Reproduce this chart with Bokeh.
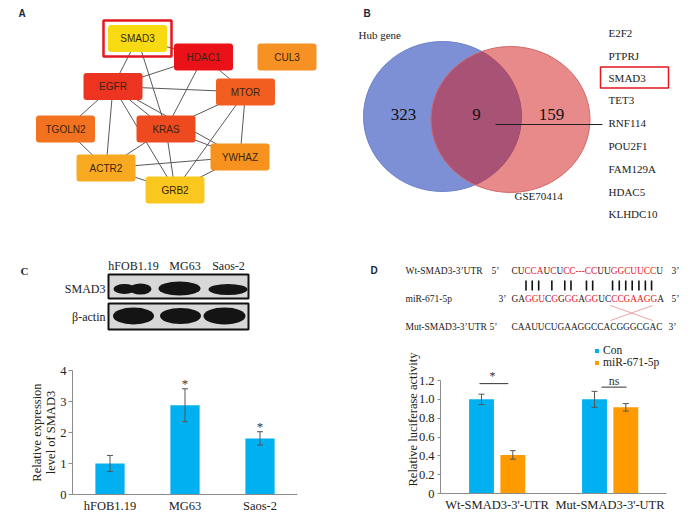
from bokeh.plotting import figure
from bokeh.models import (Range1d, FactorRange, ColumnDataSource, Whisker,
                          CustomJSTickFormatter, FixedTicker)
from bokeh.transform import dodge
from bokeh.layouts import row, column
from bokeh.core.properties import value
from bokeh.embed import file_html
from bokeh.resources import INLINE

SERIF_NAME = "Liberation Serif"
SANS_NAME = "Liberation Sans"
SERIF = value(SERIF_NAME)
SANS = value(SANS_NAME)

# ---------------- Panel A : PPI network ----------------
node_names = ["SMAD3", "HDAC1", "CUL3", "EGFR", "MTOR", "TGOLN2", "KRAS", "YWHAZ", "ACTR2", "GRB2"]
node_x = [137, 203, 286.5, 112.5, 245, 65, 165.5, 239.5, 105.5, 174.5]
node_y = [38, 56.5, 56.5, 86, 91.5, 128.5, 128.5, 156.5, 167.5, 189.5]
node_colors = ["#f8da12", "#ea1218", "#f69224", "#ec3420", "#f25e20", "#f2721f",
               "#ed4a1f", "#f7921f", "#f8a920", "#f9c71d"]
edges = [("SMAD3", "HDAC1"), ("SMAD3", "EGFR"), ("SMAD3", "KRAS"),
         ("HDAC1", "EGFR"), ("HDAC1", "KRAS"), ("HDAC1", "MTOR"),
         ("EGFR", "MTOR"), ("EGFR", "TGOLN2"), ("EGFR", "ACTR2"), ("EGFR", "KRAS"),
         ("EGFR", "GRB2"), ("EGFR", "YWHAZ"),
         ("MTOR", "KRAS"), ("MTOR", "GRB2"), ("MTOR", "YWHAZ"),
         ("KRAS", "YWHAZ"), ("KRAS", "ACTR2"), ("KRAS", "GRB2"),
         ("TGOLN2", "ACTR2"), ("ACTR2", "YWHAZ"), ("ACTR2", "GRB2"), ("GRB2", "YWHAZ")]
highlight_gene = "SMAD3"

# ---------------- Panel B : Venn ----------------
venn_counts = ["323", "9", "159"]
venn_sets = ["Hub gene", "GSE70414"]
overlap_genes = ["E2F2", "PTPRJ", "SMAD3", "TET3", "RNF114", "POU2F1", "FAM129A", "HDAC5", "KLHDC10"]

# ---------------- Panel C ----------------
cells = ["hFOB1.19", "MG63", "Saos-2"]
expr = [1.0, 2.88, 1.81]
expr_err = [0.26, 0.53, 0.215]
expr_sig = ["", "*", "*"]
blot_rows = ["SMAD3", "\u03b2-actin"]

# ---------------- Panel D ----------------
groups = ["Wt-SMAD3-3'-UTR", "Mut-SMAD3-3'-UTR"]
con = [1.0, 1.0]
con_err = [0.055, 0.085]
mir = [0.41, 0.915]
mir_err = [0.045, 0.04]
sig_text = ["*", "ns"]
seq_names = ["Wt-SMAD3-3\u2019UTR", "miR-671-5p", "Mut-SMAD3-3\u2019UTR"]
seq_left = ["5\u2019", "3\u2019", "5\u2019"]
seq_right = ["3\u2019", "5\u2019", "3\u2019"]
wt_seq = "CUCCAUCUCC---CCUUGGCUUCCU"
wt_red = [2, 3, 4, 6, 8, 9, 10, 11, 12, 13, 14, 17, 18, 19, 20, 21, 22, 23]
wt_pair = [2, 3, 4, 6, 8, 9, 13, 14, 17, 18, 19, 20, 21, 22, 23]
mir_seq = "GAGGUCGGGGAGGUCCCGAAGGA"
mir_red = [2, 3, 4, 6, 8, 9, 11, 12, 15, 16, 17, 18, 19, 20, 21]
mut_seq = "CAAUUCUGAAGGCCACGGGCGAC"

BLUE = "#00B0F0"
ORANGE = "#FF9A00"
AXIS = "#8c8c8c"


def canvas(w, h, x0, x1, y0, y1):
    p = figure(width=w, height=h, x_range=Range1d(x0, x1), y_range=Range1d(y1, y0),
               x_axis_type=None, y_axis_type=None, output_backend="svg",
               toolbar_location=None, min_border=0, outline_line_color=None,
               frame_align=False)
    return p


# ===== A =====
pA = canvas(350, 258, 0, 350, 0, 258)
pos = {n: (x, y) for n, x, y in zip(node_names, node_x, node_y)}
pA.segment(x0=[pos[a][0] for a, b in edges], y0=[pos[a][1] for a, b in edges],
           x1=[pos[b][0] for a, b in edges], y1=[pos[b][1] for a, b in edges],
           line_color="#5a5a5a", line_width=1)
bw, bh = 59, 27
pA.quad(left=[x - bw / 2 for x in node_x], right=[x + bw / 2 for x in node_x],
        top=[y - bh / 2 for y in node_y], bottom=[y + bh / 2 for y in node_y],
        fill_color=node_colors, line_color=None, border_radius=3)
hx, hy = pos[highlight_gene]
pA.quad(left=[hx - 34], right=[hx + 34], top=[hy - 18], bottom=[hy + 18],
        fill_color=None, line_color="#e4161e", line_width=2.5)
pA.text(x=node_x, y=node_y, text=node_names, text_align="center", text_baseline="middle",
        text_font=SANS, text_font_size="10px", text_color="#3b2414")
pA.text(x=[18], y=[13], text=["A"], text_align="left", text_baseline="middle",
        text_font=SANS, text_font_size="10px", text_font_style="bold", text_color="#1a2a3a")

# ===== B =====
pB = canvas(348, 258, 350, 698, 0, 258)
pB.ellipse(x=[442], y=[116], width=[158], height=[150], fill_color="#7d90d5",
           line_color="#6d80c8", line_width=1)
pB.ellipse(x=[510], y=[119], width=[159], height=[146], fill_color=(210, 25, 25),
           fill_alpha=0.51, line_color="#d06868", line_width=1)
pB.text(x=[403, 476, 551], y=[114, 114, 114], text=venn_counts, text_align="center",
        text_baseline="middle", text_font=SERIF, text_font_size="17px", text_color="#111111")
pB.segment(x0=[495], y0=[124], x1=[602], y1=[124], line_color="#222222", line_width=1)
pB.text(x=[358, 514], y=[34, 195], text=venn_sets, text_align="left", text_baseline="middle",
        text_font=SERIF, text_font_size="11px", text_color="#222222")
gene_y = [32, 55, 77, 99, 122, 145, 168, 191, 213]
pB.text(x=[608] * len(overlap_genes), y=gene_y, text=overlap_genes, text_align="left",
        text_baseline="middle", text_font=SERIF, text_font_size="11px", text_color="#222222")
gi = overlap_genes.index("SMAD3")
pB.quad(left=[600], right=[668], top=[gene_y[gi] - 10.5], bottom=[gene_y[gi] + 10.5],
        fill_color=None, line_color="#e4161e", line_width=1.5)
pB.text(x=[363], y=[13], text=["B"], text_align="left", text_baseline="middle",
        text_font=SANS, text_font_size="10px", text_font_style="bold", text_color="#1a2a3a")

# ===== C top: western blot =====
pCt = canvas(350, 87, 0, 350, 258, 345)
pCt.text(x=[133, 184.5, 228], y=[265, 265, 265], text=cells, text_align="center",
         text_baseline="middle", text_font=SERIF, text_font_size="12px", text_color="#222222")
pCt.quad(left=[108, 108], right=[248, 248], top=[274, 303], bottom=[298, 329],
         fill_color="#d8d8d8", line_color="#111111", line_width=2)
pCt.ellipse(x=[124, 140, 179, 227.5], y=[288.5, 288.5, 288, 289], width=[22, 22, 42, 39],
            height=[10, 11, 14, 11], fill_color="#141414", line_color=None)
pCt.ellipse(x=[133, 180, 224], y=[315.5, 315.5, 315.5], width=[41, 41, 42],
            height=[17, 16, 17], fill_color="#141414", line_color=None)
pCt.text(x=[105, 105], y=[288, 316], text=blot_rows, text_align="right", text_baseline="middle",
         text_font=SERIF, text_font_size="12px", text_color="#222222")
pCt.text(x=[20], y=[270], text=["C"], text_align="left", text_baseline="middle",
         text_font=SERIF, text_font_size="11px", text_font_style="bold", text_color="#1a2a3a")

# ===== C bar =====
srcC = ColumnDataSource(dict(cell=cells, expr=expr,
                             up=[v + e for v, e in zip(expr, expr_err)],
                             lo=[v - e for v, e in zip(expr, expr_err)],
                             sig=expr_sig,
                             sig_y=[v + e + 0.18 for v, e in zip(expr, expr_err)]))
pCb = figure(width=350, height=179, x_range=FactorRange(*cells), y_range=Range1d(0, 4),
             output_backend="svg", toolbar_location=None, outline_line_color=None,
             frame_align=False,
             min_border_left=72, min_border_right=53, min_border_top=25, min_border_bottom=30)
pCb.vbar(x="cell", top="expr", width=0.39, source=srcC, fill_color=BLUE, line_color=None)
wC = Whisker(source=srcC, base="cell", upper="up", lower="lo", level="overlay",
             line_color="#555555", line_width=1)
wC.upper_head.size = 6
wC.lower_head.size = 6
wC.upper_head.line_color = "#555555"
wC.lower_head.line_color = "#555555"
pCb.add_layout(wC)
pCb.text(x="cell", y="sig_y", text="sig", source=srcC, text_align="center", text_baseline="middle",
         text_font=SERIF, text_font_size="13px", text_color="#333333")
pCb.grid.visible = False
pCb.yaxis.ticker = FixedTicker(ticks=[0, 1, 2, 3, 4])
pCb.yaxis.axis_label = "Relative expression\nlevel of SMAD3"
for ax in (pCb.xaxis, pCb.yaxis):
    ax.axis_line_color = AXIS
    ax.major_tick_line_color = AXIS
    ax.minor_tick_line_color = None
    ax.major_label_text_font = SERIF_NAME
    ax.major_label_text_font_size = "12.5px"
    ax.major_label_text_color = "#222222"
    ax.axis_label_text_font = SERIF_NAME
    ax.axis_label_text_font_size = "12.5px"
    ax.axis_label_text_font_style = "normal"
    ax.axis_label_text_color = "#222222"
    ax.axis_label_text_line_height = 1.0
pCb.yaxis.major_tick_out = 4
pCb.yaxis.major_tick_in = 0
pCb.yaxis.major_label_standoff = 2
pCb.yaxis.axis_label_standoff = -1
pCb.xaxis.major_tick_line_color = None
pCb.xaxis.major_tick_out = 0
pCb.xaxis.major_tick_in = 0
pCb.xaxis.major_label_standoff = 4

# ===== D top: sequences =====
pDt = canvas(348, 82, 350, 698, 258, 340)
CW = {"A": 0.722, "C": 0.667, "G": 0.722, "U": 0.722, "-": 0.333}
FS = 9.3


def centers(seq, x0):
    xs, cur = [], x0
    for ch in seq:
        w = CW[ch] * FS
        xs.append(cur + w / 2)
        cur += w
    return xs


row_y = [270, 298, 326]
seq_x0 = 511
wt_x = centers(wt_seq, seq_x0)
mir_x = centers(mir_seq, seq_x0)
mut_x = centers(mut_seq, seq_x0)
RED = "#e8141c"
chars, cx, cy, cc = [], [], [], []
for seq, xs, y, reds in [(wt_seq, wt_x, row_y[0], wt_red), (mir_seq, mir_x, row_y[1], mir_red),
                         (mut_seq, mut_x, row_y[2], [])]:
    for i, ch in enumerate(seq):
        chars.append(ch)
        cx.append(xs[i])
        cy.append(y)
        cc.append(RED if i in reds else "#1a1a1a")
pDt.text(x=cx, y=cy, text=chars, text_color=cc, text_align="center", text_baseline="middle",
         text_font=SERIF, text_font_size=f"{FS}px")
pair_x = [wt_x[i] - 1.5 for i in wt_pair]
pDt.segment(x0=pair_x, x1=pair_x, y0=[280.0] * len(pair_x), y1=[290.0] * len(pair_x),
            line_color="#111111", line_width=1.6)
pDt.text(x=[405] * 3, y=row_y, text=seq_names, text_align="left", text_baseline="middle",
         text_font=SERIF, text_font_size="9.5px", text_color="#1a1a1a")
pDt.text(x=[495, 502, 493], y=row_y, text=seq_left, text_align="center", text_baseline="middle",
         text_font=SERIF, text_font_size="9.5px", text_color="#1a1a1a")
pDt.text(x=[675, 675, 672], y=row_y, text=seq_right, text_align="center", text_baseline="middle",
         text_font=SERIF, text_font_size="9.5px", text_color="#1a1a1a")
pDt.segment(x0=[610, 610], y0=[305, 320], x1=[652, 652], y1=[320, 305],
            line_color="#f0a4a4", line_width=1)
pDt.text(x=[370], y=[270], text=["D"], text_align="left", text_baseline="middle",
         text_font=SANS, text_font_size="10px", text_font_style="bold", text_color="#1a2a3a")

# ===== D bar =====
srcD = ColumnDataSource(dict(group=groups, con=con, mir=mir,
                             con_up=[v + e for v, e in zip(con, con_err)],
                             con_lo=[v - e for v, e in zip(con, con_err)],
                             mir_up=[v + e for v, e in zip(mir, mir_err)],
                             mir_lo=[v - e for v, e in zip(mir, mir_err)]))
# frame extends above the 1.2 axis top so that the legend and markers fit inside it
pDb = figure(width=348, height=184, x_range=FactorRange(*groups), y_range=Range1d(0, 1.572),
             output_backend="svg", toolbar_location=None, outline_line_color=None,
             frame_align=False,
             min_border_left=90, min_border_right=32, min_border_top=5, min_border_bottom=31)
pDb.vbar(x=dodge("group", -0.137, range=pDb.x_range), top="con", width=0.22, source=srcD,
         fill_color=BLUE, line_color=None, legend_label="Con")
pDb.vbar(x=dodge("group", 0.14, range=pDb.x_range), top="mir", width=0.22, source=srcD,
         fill_color=ORANGE, line_color=None, legend_label="miR-671-5p")
for off, up, lo in [(-0.137, "con_up", "con_lo"), (0.14, "mir_up", "mir_lo")]:
    w = Whisker(source=srcD, base=dodge("group", off, range=pDb.x_range), upper=up, lower=lo,
                level="overlay", line_color="#555555", line_width=1)
    w.upper_head.size = 6
    w.lower_head.size = 6
    w.upper_head.line_color = "#555555"
    w.lower_head.line_color = "#555555"
    pDb.add_layout(w)
# significance brackets (synthetic categorical coordinates: group i centred at i + 0.5)
sig_line_y = [1.167, 1.13]
pDb.segment(x0=[0.345, 1.425], x1=[0.60, 1.646], y0=sig_line_y, y1=sig_line_y,
            line_color="#333333", line_width=1)
pDb.text(x=[0.46, 1.537], y=[1.245, 1.19], text=sig_text, text_align="center",
         text_baseline="middle", text_font=SERIF, text_font_size="12px", text_color="#333333")
pDb.grid.visible = False
pDb.yaxis.ticker = FixedTicker(ticks=[0, 0.2, 0.4, 0.6, 0.8, 1.0, 1.2])
pDb.yaxis.bounds = (0, 1.2)
pDb.yaxis.formatter = CustomJSTickFormatter(code="return tick == 0 ? '0' : tick.toFixed(1);")
pDb.yaxis.axis_label = "Relative luciferase activity"
for ax in (pDb.xaxis, pDb.yaxis):
    ax.axis_line_color = AXIS
    ax.major_tick_line_color = AXIS
    ax.minor_tick_line_color = None
    ax.major_label_text_font = SERIF_NAME
    ax.major_label_text_font_size = "12.5px"
    ax.major_label_text_color = "#222222"
    ax.axis_label_text_font = SERIF_NAME
    ax.axis_label_text_font_size = "12.5px"
    ax.axis_label_text_font_style = "normal"
    ax.axis_label_text_color = "#222222"
pDb.yaxis.major_tick_out = 3
pDb.yaxis.major_tick_in = 0
pDb.yaxis.major_label_standoff = 3
pDb.yaxis.axis_label_standoff = -4
pDb.xaxis.major_tick_line_color = None
pDb.xaxis.major_tick_out = 0
pDb.xaxis.major_tick_in = 0
pDb.xaxis.major_label_standoff = 4
lg = pDb.legend[0]
lg.location = (154, 125)
lg.padding = 0
lg.margin = 0
lg.spacing = 0
lg.glyph_width = 5
lg.glyph_height = 5
lg.label_standoff = 4
lg.label_height = 11
lg.label_text_font = SERIF_NAME
lg.label_text_font_size = "11.5px"
lg.label_text_color = "#222222"
lg.label_text_baseline = "middle"
lg.border_line_color = None
lg.background_fill_alpha = 0

layout = column(row(pA, pB), row(column(pCt, pCb), column(pDt, pDb)))
open("out.html", "w").write(file_html(layout, INLINE))
